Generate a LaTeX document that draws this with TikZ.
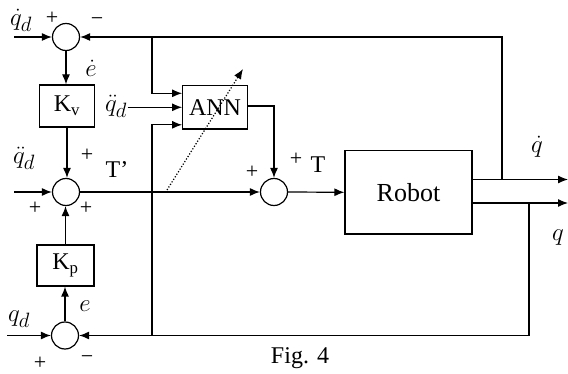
\documentclass[tikz,border=0pt]{standalone}
\usepackage{fontspec}
\setmainfont{Liberation Serif}
\usetikzlibrary{arrows.meta}
\begin{document}
\begin{tikzpicture}[x=1pt,y=-1pt, line width=1.2pt,
  >={Latex[length=10pt,width=8pt]},
  sum/.style={circle,draw,minimum size=27pt,inner sep=0pt},
  blk/.style={draw,inner sep=0pt,font=\fontsize{24}{26}\selectfont},
  lbl/.style={inner sep=0pt,font=\fontsize{24}{26}\selectfont},
  mlbl/.style={inner sep=0pt,font=\fontsize{24.88}{28}\selectfont},
  sgn/.style={inner sep=0pt,font=\fontsize{22}{24}\selectfont}]
\useasboundingbox (0,0) rectangle (568,374);
% summing junctions
\node[sum] (s1) at (66,37) {};
\node[sum] (s2) at (66,192) {};
\node[sum] (s3) at (65,335.5) {};
\node[sum] (s4) at (274,192) {};
% blocks
\node[blk, minimum width=55pt, minimum height=42pt] (kv) at (67,106) {K\textsubscript{v}};
\node[blk, minimum width=57pt, minimum height=41pt] (kp) at (65.5,265.5) {K\textsubscript{p}};
\node[blk, minimum width=64.6pt, minimum height=43.3pt] (ann) at (215,107.3) {ANN};
\node[blk, minimum width=127pt, minimum height=83.3pt, font=\fontsize{26}{28}\selectfont] (robot) at (408.5,192.3) {Robot};
% coordinates
\coordinate (i1) at (14,37);
\coordinate (i2) at (14,192);
\coordinate (i3) at (7,335.5);
\coordinate (o1) at (568,179.5);
\coordinate (o2) at (568,203);
\coordinate (b1) at (502,179.5);
\coordinate (b2) at (529,203);
\coordinate (j1) at (152,37);
\coordinate (j3) at (152,335.5);
\coordinate (d1) at (167,190);
\coordinate (d2) at (243,69);
% input labels
\node[mlbl] (lqd1) at (21,20) {$\dot q_d$};
\node[mlbl] (lqdd2) at (24,158) {$\ddot q_d$};
\node[mlbl] (lqd3) at (19,319) {$q_d$};
\node[mlbl] (lqdd) at (116,106) {$\ddot q_d$};
% connectors
\draw[->] (i1) -- (s1.west);
\draw[->] (i2) -- (s2.west);
\draw[->] (i3) -- (s3.west);
\draw[->] (s1.south) -- (s1.south |- kv.north);
\draw[->] (kv.south) -- (kv.south |- s2.north);
\draw[->] (kp.north) -- (kp.north |- s2.south);
\draw[->] (s3.north) -- (s3.north |- kp.south);
\draw[->] (s2.east) -- (s4.west);
\draw[->] (s4.east) -- (robot.west);
\draw[->] (robot.east |- o1) -- (o1);
\draw[->] (robot.east |- o2) -- (o2);
\draw[->] (b1) |- (s1.east);
\draw[->] (b2) |- (s3.east);
\draw[->] (j1) |- ([yshift=14pt]ann.west);
\draw[->] (j3) |- ([yshift=-17.5pt]ann.west);
\draw[->] (lqdd.east |- ann.west) -- (ann.west);
\draw[->] ([yshift=1.3pt]ann.east) -| (s4.north);
\draw[->, dash pattern=on 1.2pt off 1.8pt] (d1) -- (d2);
% signs and signal labels
\node[sgn] (p1) at (52,18) {+};
\node[sgn] (m1) at (97,22) {−};
\node[mlbl] (le1) at (91,68) {$\dot e$};
\node[sgn] (p2) at (87,155) {+};
\node[lbl] (lt1) at (117,170) {T'};
\node[sgn] (p3) at (35,208) {+};
\node[sgn] (p4) at (86,208) {+};
\node[mlbl] (le3) at (85,306) {$e$};
\node[sgn] (p5) at (40,363) {+};
\node[sgn] (m5) at (87,360) {−};
\node[sgn] (p6) at (252,172) {+};
\node[sgn] (p7) at (296,159) {+};
\node[lbl] (lt) at (318,165) {T};
\node[mlbl] (lqdot) at (537,147) {$\dot q$};
\node[mlbl] (lq) at (558,238) {$q$};
\node[lbl] (fig) at (300,358) {Fig. 4};
\end{tikzpicture}
\end{document}
